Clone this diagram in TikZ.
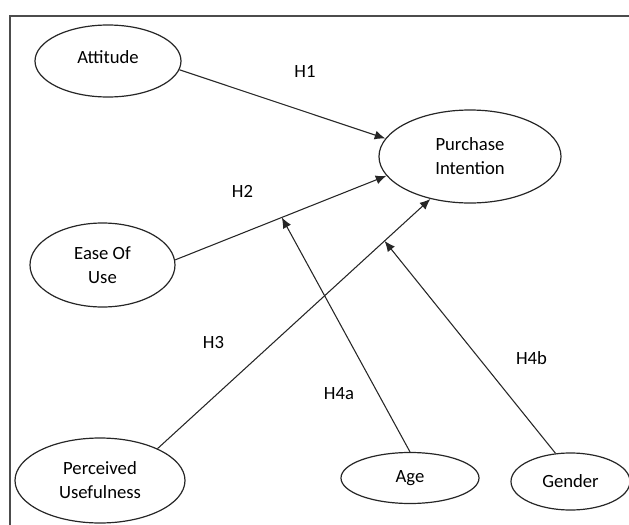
\documentclass[tikz,border=0pt]{standalone}
\usepackage{fontspec}
\setmainfont{Carlito}
\usetikzlibrary{shapes.geometric,arrows.meta}

\begin{document}
\begin{tikzpicture}[x=0.75pt, y=-0.75pt,
  construct/.style={ellipse, draw=black!85, line width=0.9pt, inner sep=0pt,
    align=center, font=\fontsize{14}{18}\selectfont},
  hyp/.style={draw=black!85, line width=0.8pt, -{Latex[length=8pt,width=6.8pt]}},
  hlabel/.style={font=\fontsize{14}{18}\selectfont}]
\useasboundingbox (0,0) rectangle (629,525);

% Frame (right and bottom sides fall outside the picture)
\draw[line width=1.1pt, black!70] (629,16) -- (10,16) -- (10,525);

% Constructs
\node[construct, minimum width=109.5pt, minimum height=54pt, text depth=6.5pt] (att) at (108,61) {Attitude};
\node[construct, minimum width=136.5pt, minimum height=69.75pt] (pi) at (470,156.5) {Purchase\\Intention};
\node[construct, minimum width=108.75pt, minimum height=63pt] (eou) at (102.5,265) {Ease Of\\Use};
\node[construct, minimum width=127.5pt, minimum height=63.75pt] (pu) at (100,480.5) {Perceived\\Usefulness};
\node[construct, minimum width=103.5pt, minimum height=38.25pt] (age) at (410,478) {Age};
\node[construct, minimum width=89.25pt, minimum height=42.75pt] (gen) at (570.5,481.5) {Gender};

% Hypotheses
\draw[hyp] (att.-7) -- (pi.168);
\draw[hyp] (eou.4) -- coordinate[pos=0.505] (m1) (pi.193);
\draw[hyp] (pu.29) -- coordinate[pos=0.832] (m2) (pi.227);
\draw[hyp] (age.north) -- (m1);
\draw[hyp] (gen.118) -- (m2);

% Labels
\node[hlabel] (h1) at (305,71.5) {H1};
\node[hlabel] (h2) at (242.5,191.5) {H2};
\node[hlabel] (h3) at (213.5,343) {H3};
\node[hlabel] (h4a) at (339,393.5) {H4a};
\node[hlabel] (h4b) at (531.5,358) {H4b};
\end{tikzpicture}
\end{document}
